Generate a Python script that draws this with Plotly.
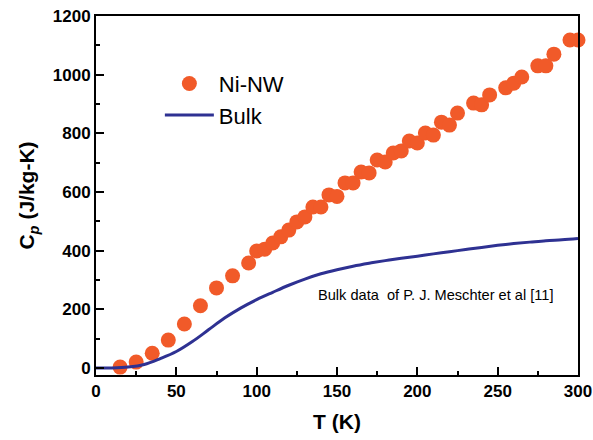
import plotly.graph_objects as go

# Ni nanowire specific heat
nw_T = [15, 25, 35, 45, 55, 65, 75, 85, 95, 100, 105, 110, 115, 120, 125, 130, 135, 140,
        145, 150, 155, 160, 165, 170, 175, 180, 185, 190, 195, 200, 205, 210, 215, 220,
        225, 235, 240, 245, 255, 260, 265, 275, 280, 285, 295, 300]
nw_Cp = [3, 20, 50, 95, 150, 212, 273, 314, 358, 399, 405, 426, 447, 470, 498, 515, 549, 549,
         590, 585, 631, 631, 668, 665, 709, 702, 733, 740, 774, 767, 801, 794, 838, 828,
         869, 903, 897, 931, 955, 971, 992, 1030, 1030, 1070, 1118, 1118]

# Bulk Ni (Meschter et al.)
bulk_T = [0, 10, 20, 30, 40, 50, 60, 70, 80, 90, 100, 110, 120, 130, 140, 150, 160, 170,
          180, 190, 200, 210, 220, 230, 240, 250, 260, 270, 280, 290, 300]
bulk_Cp = [0, 0, 3, 12, 32, 56, 90, 130, 170, 204, 233, 258, 282, 303, 321, 335, 347, 357,
           366, 374, 381, 389, 396, 404, 411, 418, 424, 429, 434, 437, 441]

FONT = "Arial, Liberation Sans, sans-serif"

fig = go.Figure()
fig.add_trace(go.Scatter(
    x=nw_T, y=nw_Cp, mode="markers", name="Ni-NW",
    marker=dict(color="#F15A29", size=15, line=dict(width=0)),
    cliponaxis=False,
))
fig.add_trace(go.Scatter(
    x=bulk_T, y=bulk_Cp, mode="lines", name="Bulk",
    line=dict(color="#2E3192", width=3, shape="spline"),
))

fig.add_annotation(
    x=137, y=249, xref="x", yref="y", xanchor="left", yanchor="middle",
    text="Bulk data  of P. J. Meschter et al [11]", showarrow=False,
    font=dict(family=FONT, size=14.6, color="black"),
)

axis_common = dict(
    showline=True, linecolor="black", linewidth=2, mirror=True,
    ticks="inside", tickcolor="black", tickwidth=1.5, ticklen=8,
    showgrid=False, zeroline=False, automargin=False,
    tickfont=dict(family=FONT, size=17, color="black", weight="bold"),
)

fig.update_xaxes(
    range=[0, 300], tickvals=[0, 50, 100, 150, 200, 250, 300],
    minor=dict(ticks="inside", ticklen=4, tickcolor="black", tickwidth=1.5, dtick=25, tick0=0),
    title=dict(text="T (K)", font=dict(family=FONT, size=21, color="black", weight="bold"),
               standoff=14),
    **axis_common,
)
fig.update_yaxes(
    range=[-24, 1200], tickvals=[0, 200, 400, 600, 800, 1000, 1200],
    minor=dict(ticks="inside", ticklen=4, tickcolor="black", tickwidth=1.5, dtick=100, tick0=0),
    title=dict(text="C<sub><i>p</i></sub> (J/kg-K)",
               font=dict(family=FONT, size=21, color="black", weight="bold"), standoff=12),
    **axis_common,
)

fig.update_layout(
    width=593, height=440,
    margin=dict(l=96, r=15, t=16, b=65),
    paper_bgcolor="white", plot_bgcolor="white",
    showlegend=True,
    legend=dict(x=0.1325, y=0.87, xanchor="left", yanchor="top",
                bgcolor="rgba(0,0,0,0)", font=dict(family=FONT, size=22, color="black"),
                itemwidth=49, tracegroupgap=0),
)

fig.write_html("out.html", config={"displayModeBar": False},
               post_script="document.body.style.margin='0';document.body.style.padding='0';")
